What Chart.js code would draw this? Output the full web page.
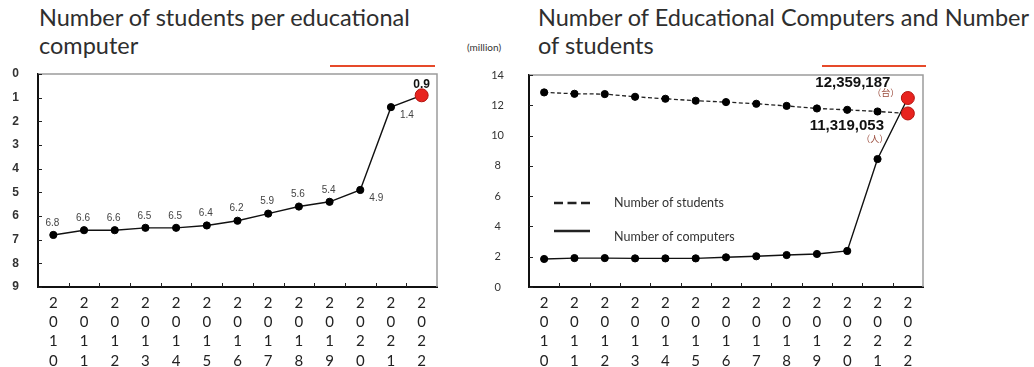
<!DOCTYPE html>
<html>
<head>
<meta charset="utf-8">
<script src="https://cdn.jsdelivr.net/npm/chart.js@4.4.1/dist/chart.umd.min.js"></script>
<style>
  body { margin: 0; background: #fff; width: 1034px; height: 367px; overflow: hidden; position: relative; font-family: Lato, sans-serif; }
  .title { position: absolute; top: 3px; font-size: 23.5px; line-height: 28px; color: #2e2e2e; white-space: nowrap; }
  .unit { position: absolute; left: 467px; top: 41px; font-size: 10px; line-height: 12px; color: #333; }
  .mark { position: absolute; top: 65px; height: 1.5px; background: #e64a2a; }
  canvas { position: absolute; top: 0; }
</style>
</head>
<body>
<div class="title" style="left:39px">Number of students per educational<br>computer</div>
<div class="title" style="left:538px">Number of Educational Computers and Number<br>of students</div>
<div class="unit">(million)</div>
<div class="mark" style="left:330px;width:105px"></div>
<div class="mark" style="left:822px;width:104px"></div>
<canvas id="ratio" width="475" height="367" style="left:0"></canvas>
<canvas id="counts" width="559" height="367" style="left:475px"></canvas>
<script>
// data
const years = ['2010', '2011', '2012', '2013', '2014', '2015', '2016', '2017', '2018', '2019', '2020', '2021', '2022'];
const studentsPerPc = [6.8, 6.6, 6.6, 6.5, 6.5, 6.4, 6.2, 5.9, 5.6, 5.4, 4.9, 1.4, 0.9];
// millions
const students = [12.85, 12.76, 12.74, 12.56, 12.43, 12.30, 12.21, 12.10, 11.96, 11.79, 11.70, 11.59, 11.46];
const computers = [1.85, 1.91, 1.91, 1.89, 1.89, 1.89, 1.96, 2.03, 2.11, 2.18, 2.38, 8.45, 12.48];
const ratioTicks = [0, 9, 1];
const countTicks = [0, 14, 2];
const lastComputers = '12,359,187';
const lastStudents = '11,319,053';

const RED = '#e8231f';
const last = years.length - 1;
const dotColors = years.map((y, i) => i === last ? RED : '#000');
const dotEdges = years.map((y, i) => i === last ? '#b3140f' : '#000');
const dotSizes = years.map((y, i) => i === last ? 6.5 : 3.6);

const splitYear = function (v) { return this.getLabelForValue(v).split(''); };

// top/right frame and small ticks pointing inward
const framePlugin = {
  id: 'frame',
  beforeDatasetsDraw(chart) {
    const { ctx, chartArea: a, scales: { x, y } } = chart;
    ctx.save();
    ctx.strokeStyle = '#9c9c9c';
    ctx.lineWidth = 1.5;
    ctx.beginPath();
    ctx.moveTo(a.left, a.top);
    ctx.lineTo(a.right, a.top);
    ctx.lineTo(a.right, a.bottom);
    ctx.stroke();
    ctx.strokeStyle = '#222';
    ctx.lineWidth = 1;
    y.ticks.forEach(t => {
      const py = Math.round(y.getPixelForValue(t.value)) + 0.5;
      ctx.beginPath(); ctx.moveTo(a.left, py); ctx.lineTo(a.left + 4, py); ctx.stroke();
    });
    for (let i = 1; i < x.ticks.length; i++) {
      const px = Math.round((x.getPixelForTick(i - 1) + x.getPixelForTick(i)) / 2) + 0.5;
      ctx.beginPath(); ctx.moveTo(px, a.bottom); ctx.lineTo(px, a.bottom - 4); ctx.stroke();
    }
    ctx.restore();
  }
};

const ratioLabels = {
  id: 'ratioLabels',
  afterDatasetsDraw(chart) {
    const ctx = chart.ctx;
    const pts = chart.getDatasetMeta(0).data;
    ctx.save();
    ctx.textAlign = 'center';
    ctx.textBaseline = 'middle';
    pts.forEach((p, i) => {
      const txt = studentsPerPc[i].toFixed(1);
      if (i === last) {
        ctx.font = 'bold 12px "Liberation Sans"';
        ctx.fillStyle = '#111';
        ctx.fillText(txt, p.x, p.y - 11);
      } else if (i >= last - 2) {
        ctx.font = '10px "Liberation Sans"';
        ctx.fillStyle = '#444';
        ctx.fillText(txt, p.x + 16, p.y + 8);
      } else {
        ctx.font = '10px "Liberation Sans"';
        ctx.fillStyle = '#444';
        ctx.fillText(txt, p.x - 1, p.y - 12);
      }
    });
    ctx.restore();
  }
};

const countLabels = {
  id: 'countLabels',
  afterDatasetsDraw(chart) {
    const { ctx, chartArea: a } = chart;
    const s = chart.getDatasetMeta(0).data[last];
    const c = chart.getDatasetMeta(1).data[last];
    ctx.save();
    ctx.textAlign = 'center';
    ctx.textBaseline = 'middle';
    ctx.font = 'bold 15px "Liberation Sans"';
    ctx.fillStyle = '#111';
    ctx.fillText(lastComputers, c.x - 55, c.y - 15);
    ctx.fillText(lastStudents, s.x - 61, s.y + 12);
    ctx.font = '9px "Noto Sans CJK JP"';
    ctx.fillStyle = '#9a4a3a';
    ctx.fillText('（台）', c.x - 22, c.y - 5);
    ctx.fillText('（人）', s.x - 33, s.y + 25);

    // legend inside the plot
    const rows = [[203, 203, [9, 4.5]], [231, 237, []]];
    chart.data.datasets.forEach((ds, i) => {
      const [ly, ty, dash] = rows[i];
      ctx.strokeStyle = '#222';
      ctx.lineWidth = 2.6;
      ctx.setLineDash(dash);
      ctx.beginPath();
      ctx.moveTo(a.left + 25, ly);
      ctx.lineTo(a.left + 61, ly);
      ctx.stroke();
      ctx.setLineDash([]);
      ctx.font = '12.5px Lato';
      ctx.fillStyle = '#333';
      ctx.textAlign = 'left';
      ctx.fillText(ds.label, a.left + 85, ty);
    });
    ctx.restore();
  }
};

const xAxis = {
  offset: true,
  grid: { display: false, drawTicks: false },
  border: { color: '#111', width: 2 },
  ticks: {
    autoSkip: false, maxRotation: 0, padding: 7, color: '#222',
    font: { family: 'Lato', size: 15, lineHeight: 1.27 },
    callback: splitYear
  },
  afterFit(s) { s.height = 80; }
};

new Chart(document.getElementById('ratio'), {
  type: 'line',
  data: {
    labels: years,
    datasets: [{
      label: 'Number of students per educational computer',
      data: studentsPerPc,
      borderColor: '#111',
      borderWidth: 1.4,
      pointRadius: dotSizes,
      pointBackgroundColor: dotColors,
      pointBorderColor: dotEdges,
      pointBorderWidth: 1,
      tension: 0
    }]
  },
  options: {
    responsive: false,
    animation: false,
    layout: { padding: { top: 74, right: 38, left: 0, bottom: 0 } },
    plugins: { legend: { display: false }, tooltip: { enabled: false } },
    scales: {
      x: xAxis,
      y: {
        min: ratioTicks[0], max: ratioTicks[1], reverse: true,
        grid: { display: false, drawTicks: false },
        border: { color: '#111', width: 2 },
        ticks: {
          stepSize: ratioTicks[2], padding: 19, crossAlign: 'center', color: '#333',
          font: { family: 'Liberation Sans', size: 12, weight: 'bold' }
        },
        afterFit(s) { s.width = 38; }
      }
    }
  },
  plugins: [framePlugin, ratioLabels]
});

new Chart(document.getElementById('counts'), {
  type: 'line',
  data: {
    labels: years,
    datasets: [{
      label: 'Number of students',
      data: students,
      borderColor: '#222',
      borderWidth: 1.3,
      borderDash: [4, 2.5],
      pointRadius: dotSizes,
      pointBackgroundColor: dotColors,
      pointBorderColor: dotEdges,
      pointBorderWidth: 1,
      tension: 0
    }, {
      label: 'Number of computers',
      data: computers,
      borderColor: '#111',
      borderWidth: 1.4,
      pointRadius: dotSizes,
      pointBackgroundColor: dotColors,
      pointBorderColor: dotEdges,
      pointBorderWidth: 1,
      tension: 0
    }]
  },
  options: {
    responsive: false,
    animation: false,
    layout: { padding: { top: 75, right: 111, left: 0, bottom: 0 } },
    plugins: { legend: { display: false }, tooltip: { enabled: false } },
    scales: {
      x: xAxis,
      y: {
        min: countTicks[0], max: countTicks[1],
        grid: { display: false, drawTicks: false },
        border: { color: '#111', width: 2 },
        ticks: {
          stepSize: countTicks[2], padding: 25, crossAlign: 'center', color: '#333',
          font: { family: 'Lato', size: 11 }
        },
        afterFit(s) { s.width = 54; }
      }
    }
  },
  plugins: [framePlugin, countLabels]
});
</script>
</body>
</html>
